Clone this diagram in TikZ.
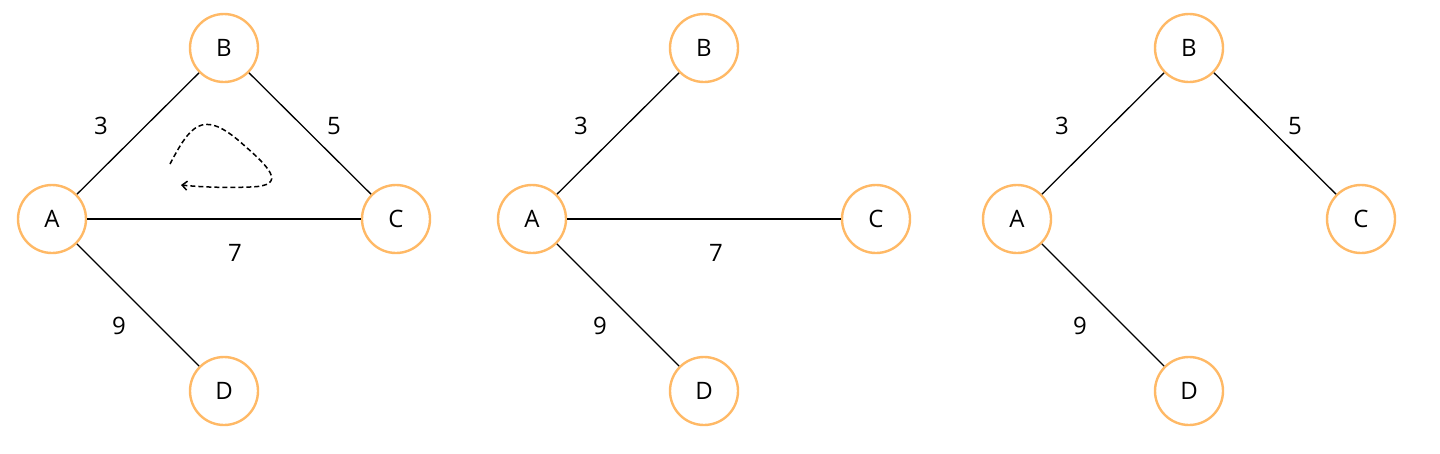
\documentclass[tikz,border=0pt]{standalone}
\usepackage{fontspec}
\setmainfont{Open Sans}
\usepackage{tikz}
\usetikzlibrary{arrows.meta, positioning}

\definecolor{vertexorange}{HTML}{FFB966}

\tikzset{
    vertex/.style={circle, draw=vertexorange, line width=2.4pt, minimum size=68pt, inner sep=0pt, font=\fontsize{24}{28}\selectfont},
    weight/.style={font=\fontsize{24}{28}\selectfont},
    edge/.style={line width=1.3pt}
}

\begin{document}
\begin{tikzpicture}[x=1pt, y=-1pt]
        \useasboundingbox (0,0) rectangle (1440,453);

        % first graph
        \node[vertex] (a1) at (52,219) {A};
        \node[vertex] (b1) at (224,48) {B};
        \node[vertex] (c1) at (396,219) {C};
        \node[vertex] (d1) at (224,391) {D};
        \draw[edge] (a1) -- (b1);
        \draw[edge] (b1) -- (c1);
        \draw[edge] (a1) -- (c1);
        \draw[edge] (a1) -- (d1);
        \node[weight] (w3a) at (101,126) {3};
        \node[weight] (w5a) at (334,126) {5};
        \node[weight] (w7a) at (235,253) {7};
        \node[weight] (w9a) at (119,326) {9};
        \draw[dash pattern=on 5pt off 3pt, line width=1.5pt, -{Straight Barb[length=5pt,width=9pt]}] (170,164)
            .. controls (190,126) and (202,110) .. (238,140)
            .. controls (268,166) and (290,186) .. (250,187)
            .. controls (225,188) and (200,187) .. (181,185);

        % second graph
        \node[vertex] (a2) at (532,219) {A};
        \node[vertex] (b2) at (704,48) {B};
        \node[vertex] (c2) at (876,219) {C};
        \node[vertex] (d2) at (704,391) {D};
        \draw[edge] (a2) -- (b2);
        \draw[edge] (a2) -- (c2);
        \draw[edge] (a2) -- (d2);
        \node[weight] (w3b) at (581,126) {3};
        \node[weight] (w7b) at (716,253) {7};
        \node[weight] (w9b) at (600,326) {9};

        % third graph
        \node[vertex] (a3) at (1017,219) {A};
        \node[vertex] (b3) at (1189,48) {B};
        \node[vertex] (c3) at (1361,219) {C};
        \node[vertex] (d3) at (1189,391) {D};
        \draw[edge] (a3) -- (b3);
        \draw[edge] (b3) -- (c3);
        \draw[edge] (a3) -- (d3);
        \node[weight] (w3c) at (1062,126) {3};
        \node[weight] (w5c) at (1295,126) {5};
        \node[weight] (w9c) at (1080,326) {9};
\end{tikzpicture}
\end{document}
